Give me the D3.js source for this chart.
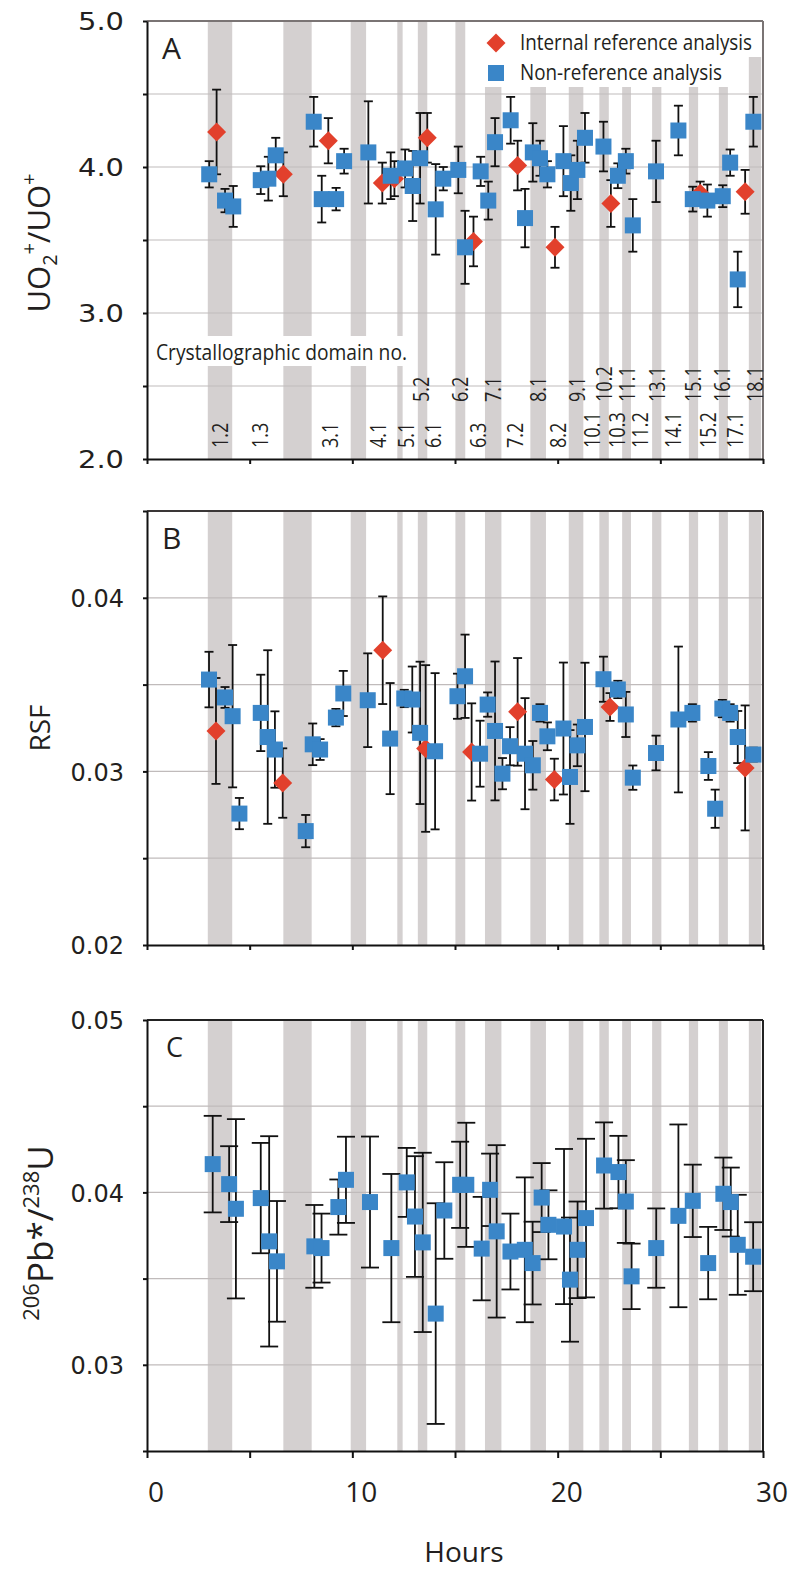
<!DOCTYPE html>
<html><head><meta charset="utf-8">
<script src="https://cdn.jsdelivr.net/npm/d3@7"></script>
<style>body{margin:0;background:#fff}svg{display:block}</style>
</head><body>
<svg id="chart" width="796" height="1569"></svg>
<script>
// ---------- DATA ----------
// Shaded crystallographic-domain bands (hours)
const bandStart = [2.96, 6.64, 9.92, 12.19, 13.19, 15.02, 16.46, 18.67, 20.54, 22.03, 23.14, 24.60, 26.39, 27.85, 29.31];
const bandEnd   = [4.15, 8.02, 10.67, 12.45, 13.65, 15.50, 17.26, 19.43, 21.25, 22.49, 23.57, 25.05, 26.84, 28.29, 29.91];

// Domain labels (panel A)
const domainLower = ["1.2","1.3","3.1","4.1","5.1","6.1","6.3","7.2","8.2","10.1","10.3","11.2","14.1","15.2","17.1"];
const domainLowerHours = [3.56, 5.50, 8.91, 11.25, 12.65, 13.93, 16.12, 17.93, 20.02, 21.68, 22.89, 24.01, 25.62, 27.33, 28.64];
const domainUpper = ["5.2","6.2","7.1","8.1","9.1","10.2","11.1","13.1","15.1","16.1","18.1"];
const domainUpperHours = [13.35, 15.25, 16.85, 19.04, 20.94, 22.26, 23.38, 24.84, 26.60, 28.00, 29.61];

// Panel A: UO2+/UO+
const aRefHours = [3.39, 6.64, 8.83, 11.46, 12.05, 13.65, 15.90, 18.05, 19.87, 22.59, 26.94, 29.13];
const aRefVal   = [4.24, 3.95, 4.18, 3.89, 3.92, 4.20, 3.49, 4.01, 3.45, 3.75, 3.82, 3.83];
const aRefErr   = [0.29, 0.15, 0.155, 0.14, 0.12, 0.17, 0.17, 0.17, 0.14, 0.16, 0.08, 0.15];
const aNonHours = [3.03, 3.80, 4.20, 5.54, 5.91, 6.27, 8.12, 8.51, 9.21, 9.60, 10.78, 11.87, 12.57, 12.94, 13.30, 14.06, 14.43, 15.16, 15.49, 16.25, 16.62, 16.95, 17.71, 18.41, 18.79, 19.14, 19.50, 20.28, 20.64, 20.96, 21.33, 22.23, 22.93, 23.32, 23.66, 24.79, 25.88, 26.58, 27.29, 28.04, 28.40, 28.77, 29.53];
const aNonVal   = [3.95, 3.77, 3.73, 3.91, 3.92, 4.08, 4.31, 3.78, 3.78, 4.04, 4.10, 3.94, 3.99, 3.87, 4.06, 3.71, 3.92, 3.98, 3.45, 3.97, 3.77, 4.17, 4.32, 3.65, 4.10, 4.06, 3.95, 4.04, 3.89, 3.98, 4.20, 4.14, 3.94, 4.04, 3.60, 3.97, 4.25, 3.78, 3.77, 3.80, 4.03, 3.23, 4.31];
const aNonErr   = [0.09, 0.08, 0.14, 0.095, 0.15, 0.12, 0.17, 0.16, 0.077, 0.085, 0.35, 0.16, 0.13, 0.24, 0.31, 0.31, 0.08, 0.16, 0.25, 0.10, 0.13, 0.165, 0.16, 0.20, 0.20, 0.12, 0.09, 0.24, 0.19, 0.20, 0.17, 0.17, 0.085, 0.085, 0.18, 0.21, 0.17, 0.085, 0.11, 0.075, 0.09, 0.19, 0.17];

// Panel B: RSF
const bRefHours = [3.36, 6.61, 11.48, 13.57, 15.81, 18.05, 19.84, 22.55, 29.13];
const bRefVal   = [0.03233, 0.02933, 0.03698, 0.03132, 0.03112, 0.03343, 0.02953, 0.03371, 0.03020];
const bRefErr   = [0.00305, 0.0020, 0.0031, 0.0048, 0.0028, 0.0031, 0.0012, 0.0008, 0.0036];
const bNonHours = [3.02, 3.80, 4.17, 4.50, 5.54, 5.88, 6.23, 7.73, 8.07, 8.43, 9.20, 9.56, 10.75, 11.84, 12.53, 12.92, 13.30, 14.03, 15.12, 15.49, 16.22, 16.59, 16.95, 17.31, 17.68, 18.41, 18.79, 19.14, 19.50, 20.28, 20.60, 20.96, 21.33, 22.23, 22.93, 23.32, 23.66, 24.79, 25.88, 26.56, 27.34, 27.67, 28.02, 28.40, 28.77, 29.53];
const bNonVal   = [0.03529, 0.03426, 0.03318, 0.02757, 0.03337, 0.03198, 0.03126, 0.02656, 0.03156, 0.03126, 0.03310, 0.03449, 0.03410, 0.03189, 0.03420, 0.03414, 0.03222, 0.03116, 0.03433, 0.03548, 0.03102, 0.03385, 0.03233, 0.02987, 0.03145, 0.03102, 0.03035, 0.03337, 0.03202, 0.03247, 0.02968, 0.03150, 0.03256, 0.03531, 0.03472, 0.03328, 0.02964, 0.03106, 0.03299, 0.03337, 0.03031, 0.02785, 0.03362, 0.03337, 0.03198, 0.03097];
const bNonErr   = [0.0016, 0.0006, 0.0041, 0.0009, 0.0022, 0.0050, 0.0022, 0.00093, 0.0012, 0.0006, 0.0005, 0.0013, 0.0027, 0.0032, 0.0005, 0.0019, 0.0041, 0.0045, 0.0013, 0.0024, 0.0019, 0.0007, 0.0040, 0.0009, 0.0011, 0.0032, 0.0014, 0.0005, 0.0008, 0.0038, 0.0027, 0.0012, 0.0037, 0.0013, 0.0005, 0.0013, 0.0007, 0.0010, 0.0042, 0.0005, 0.0008, 0.0011, 0.0005, 0.0005, 0.0015, 0.0004];

// Panel C: 206Pb*/238U
const cNonHours = [3.20, 4.00, 4.33, 5.54, 5.95, 6.33, 8.15, 8.50, 9.32, 9.69, 10.86, 11.90, 12.65, 13.05, 13.43, 14.06, 14.48, 15.25, 15.55, 16.30, 16.71, 17.03, 17.70, 18.40, 18.78, 19.22, 19.55, 20.31, 20.60, 20.97, 21.38, 22.26, 22.96, 23.32, 23.60, 24.80, 25.88, 26.58, 27.33, 28.07, 28.43, 28.77, 29.52];
const cNonVal   = [0.04164, 0.04048, 0.03905, 0.03967, 0.03716, 0.03600, 0.03687, 0.03677, 0.03915, 0.04073, 0.03944, 0.03677, 0.04058, 0.03860, 0.03710, 0.03297, 0.03895, 0.04044, 0.04044, 0.03674, 0.04015, 0.03774, 0.03657, 0.03667, 0.03590, 0.03970, 0.03812, 0.03802, 0.03494, 0.03667, 0.03851, 0.04156, 0.04118, 0.03947, 0.03513, 0.03677, 0.03864, 0.03951, 0.03590, 0.03992, 0.03944, 0.03696, 0.03627];
const cNonErr   = [0.0028, 0.0022, 0.0052, 0.0032, 0.0061, 0.0035, 0.0024, 0.0020, 0.0016, 0.0025, 0.0038, 0.0043, 0.0020, 0.0035, 0.0052, 0.0064, 0.0028, 0.0025, 0.0036, 0.0030, 0.0021, 0.0050, 0.0022, 0.0042, 0.0024, 0.0020, 0.0020, 0.0045, 0.0036, 0.0028, 0.0046, 0.0025, 0.0021, 0.0024, 0.0019, 0.0023, 0.0053, 0.0021, 0.0021, 0.0021, 0.0020, 0.0029, 0.0020];

const xTicks = [0, 5, 10, 15, 20, 25, 30];
const xLabels = [0, 10, 20, 30];

// ---------- STYLE ----------
const BLUE = "#3a86c8", RED = "#e2402c", BAND = "#d4d0d0", GRID = "#c0bbbb", TXT = "#231f20";
const SANS = "'Open Sans', 'Noto Sans', sans-serif";
const TICKFONT = "'DejaVu Sans', Verdana, sans-serif";

const svg = d3.select("#chart");
const x = d3.scaleLinear().domain([0, 30]).range([147, 763]);

function zip(h, v, e) { return h.map((d, i) => ({h: d, v: v[i], e: e[i]})); }
function steps(a, b, s) { const n = Math.round((b - a) / s); return d3.range(n + 1).map(i => +(a + i * s).toFixed(4)); }

const panels = [
  {id: "A", top: 21, bottom: 459, dom: [2, 5], step: 0.5, labels: [2, 3, 4, 5], fmt: d3.format(".1f"), tl: 46,
   ref: zip(aRefHours, aRefVal, aRefErr), non: zip(aNonHours, aNonVal, aNonErr), cap: 4.5, border: "#7a7474", xt: 5},
  {id: "B", top: 511, bottom: 945, dom: [0.02, 0.045], step: 0.005, labels: [0.02, 0.03, 0.04], fmt: d3.format(".2f"), tl: 0,
   ref: zip(bRefHours, bRefVal, bRefErr), non: zip(bNonHours, bNonVal, bNonErr), cap: 4.5, border: "#3a3636", xt: 5},
  {id: "C", top: 1020, bottom: 1451, dom: [0.025, 0.05], step: 0.005, labels: [0.03, 0.04, 0.05], fmt: d3.format(".2f"), tl: 0,
   ref: [], non: zip(cNonHours, cNonVal, cNonErr), cap: 9, border: "#222", xt: 7}
];

const bands = bandStart.map((s, i) => ({s, e: bandEnd[i]}));

panels.forEach(p => {
  const y = d3.scaleLinear().domain(p.dom).range([p.bottom, p.top]);
  const g = svg.append("g");

  // bands
  g.append("g").selectAll("rect").data(bands).join("rect")
    .attr("x", d => x(d.s)).attr("width", d => x(d.e) - x(d.s))
    .attr("y", p.top).attr("height", p.bottom - p.top).attr("fill", BAND);

  if (p.id === "A") {
    // white boxes behind legend and domain title
    g.append("rect").attr("x", 474).attr("y", p.top).attr("width", 763 - 474).attr("height", 36).attr("fill", "#fff");
    g.append("rect").attr("x", 474).attr("y", p.top + 36).attr("width", 742 - 474).attr("height", 30).attr("fill", "#fff");
    g.append("rect").attr("x", 148).attr("y", 336).attr("width", 263).attr("height", 30).attr("fill", "#fff");
  }

  // gridlines
  const gv = steps(p.dom[0], p.dom[1], p.step).filter(v => v > p.dom[0] && v < p.dom[1]);
  g.append("g").selectAll("line").data(gv).join("line")
    .attr("x1", x(0)).attr("x2", x(30)).attr("y1", d => y(d)).attr("y2", d => y(d))
    .attr("stroke", GRID).attr("stroke-width", 1.2);

  // top & right border
  g.append("line").attr("x1", x(0)).attr("x2", x(30)).attr("y1", p.top).attr("y2", p.top)
    .attr("stroke", p.border).attr("stroke-width", 2);
  g.append("line").attr("x1", x(30)).attr("x2", x(30)).attr("y1", p.top).attr("y2", p.bottom)
    .attr("stroke", p.border).attr("stroke-width", 2);

  // axes
  const yAx = g.append("g").attr("transform", `translate(${x(0)},0)`)
    .call(d3.axisLeft(y).tickValues(steps(p.dom[0], p.dom[1], p.step)).tickSize(4).tickSizeOuter(0).tickFormat(""));
  yAx.selectAll("path,line").attr("stroke", "#111").attr("stroke-width", 2);

  const yLab = g.append("g").attr("transform", `translate(${x(0)},0)`)
    .call(d3.axisLeft(y).tickValues(p.labels).tickSize(0).tickPadding(23).tickFormat(p.fmt));
  yLab.select(".domain").remove();
  yLab.selectAll("text").attr("font-family", TICKFONT).attr("font-size", 24).attr("fill", TXT).attr("dy", "0.36em");
  if (p.tl) yLab.selectAll("text").attr("textLength", p.tl).attr("lengthAdjust", "spacingAndGlyphs");

  const xAx = g.append("g").attr("transform", `translate(0,${p.bottom})`)
    .call(d3.axisBottom(x).tickValues(xTicks).tickSize(p.xt).tickSizeOuter(0).tickFormat(""));
  xAx.selectAll("path,line").attr("stroke", "#111").attr("stroke-width", 2);

  // error bars
  const all = p.ref.concat(p.non);
  const eb = g.append("g").attr("stroke", "#111").attr("stroke-width", 1.8);
  eb.selectAll("line.v").data(all).join("line").attr("class", "v")
    .attr("x1", d => x(d.h)).attr("x2", d => x(d.h))
    .attr("y1", d => y(d.v - d.e)).attr("y2", d => y(d.v + d.e));
  eb.selectAll("line.t").data(all).join("line").attr("class", "t")
    .attr("x1", d => x(d.h) - p.cap).attr("x2", d => x(d.h) + p.cap)
    .attr("y1", d => y(d.v + d.e)).attr("y2", d => y(d.v + d.e));
  eb.selectAll("line.b").data(all).join("line").attr("class", "b")
    .attr("x1", d => x(d.h) - p.cap).attr("x2", d => x(d.h) + p.cap)
    .attr("y1", d => y(d.v - d.e)).attr("y2", d => y(d.v - d.e));

  // markers
  const dia = d3.symbol().type(d3.symbolSquare).size(180);
  g.append("g").selectAll("path").data(p.ref).join("path")
    .attr("d", dia).attr("fill", RED)
    .attr("transform", d => `translate(${x(d.h)},${y(d.v)}) rotate(45)`);
  g.append("g").selectAll("rect").data(p.non).join("rect")
    .attr("x", d => x(d.h) - 8).attr("y", d => y(d.v) - 8)
    .attr("width", 16).attr("height", 16).attr("fill", BLUE);

  // panel letter
  g.append("text").attr("x", p.id === "C" ? 166 : 162).attr("y", p.top + (p.id === "C" ? 37 : 38))
    .attr("font-family", SANS).attr("font-size", p.id === "C" ? 27 : 30).attr("fill", TXT).text(p.id);
});

// ---------- Panel A extras ----------
const legend = svg.append("g");
legend.append("path").attr("d", d3.symbol().type(d3.symbolSquare).size(180))
  .attr("transform", "translate(496,43) rotate(45)").attr("fill", RED);
legend.append("rect").attr("x", 488).attr("y", 65).attr("width", 16).attr("height", 16).attr("fill", BLUE);
legend.append("text").attr("x", 520).attr("y", 50).attr("font-family", SANS).attr("font-size", 21)
  .attr("fill", TXT).attr("textLength", 232).attr("lengthAdjust", "spacingAndGlyphs").text("Internal reference analysis");
legend.append("text").attr("x", 520).attr("y", 80).attr("font-family", SANS).attr("font-size", 21)
  .attr("fill", TXT).attr("textLength", 202).attr("lengthAdjust", "spacingAndGlyphs").text("Non-reference analysis");

svg.append("text").attr("x", 156).attr("y", 360).attr("font-family", SANS).attr("font-size", 21)
  .attr("fill", TXT).attr("textLength", 251).attr("lengthAdjust", "spacingAndGlyphs").text("Crystallographic domain no.");

function domainText(labels, hours, yStart) {
  svg.append("g").selectAll("text").data(labels).join("text")
    .attr("transform", (d, i) => `translate(${x(hours[i])},${yStart}) rotate(-90) scale(0.86,1)`)
    .attr("dy", "0.36em").attr("font-family", SANS).attr("font-size", 21).attr("fill", TXT)
    .text(d => d);
}
domainText(domainLower, domainLowerHours, 448);
domainText(domainUpper, domainUpperHours, 402);

// ---------- Axis titles ----------
const tA = svg.append("text").attr("transform", "translate(50,243) rotate(-90)").attr("text-anchor", "middle")
  .attr("font-family", SANS).attr("font-size", 31).attr("fill", TXT);
tA.append("tspan").text("UO");
tA.append("tspan").attr("font-size", 20).attr("dy", 7).text("2");
tA.append("tspan").attr("font-size", 20).attr("dy", -21).text("+");
tA.append("tspan").attr("dy", 14).text("/UO");
tA.append("tspan").attr("font-size", 20).attr("dy", -14).text("+");

svg.append("text").attr("transform", "translate(50,728) rotate(-90)").attr("text-anchor", "middle")
  .attr("font-family", SANS).attr("font-size", 28).attr("fill", TXT).text("RSF");

const tC = svg.append("text").attr("transform", "translate(53,1233) rotate(-90)").attr("text-anchor", "middle")
  .attr("font-family", SANS).attr("font-size", 35).attr("fill", TXT);
tC.append("tspan").attr("font-size", 22).attr("dy", -14).text("206");
tC.append("tspan").attr("dy", 14).text("Pb*/");
tC.append("tspan").attr("font-size", 22).attr("dy", -14).text("238");
tC.append("tspan").attr("dy", 14).text("U");

// x labels
svg.append("g").selectAll("text").data(xLabels).join("text")
  .attr("x", d => x(d) + 9).attr("y", 1502).attr("text-anchor", "middle")
  .attr("font-family", SANS).attr("font-size", 28).attr("fill", TXT).text(d => d);
svg.append("text").attr("x", 464).attr("y", 1562).attr("text-anchor", "middle")
  .attr("font-family", SANS).attr("font-size", 28).attr("fill", TXT).text("Hours");
</script>
</body></html>
